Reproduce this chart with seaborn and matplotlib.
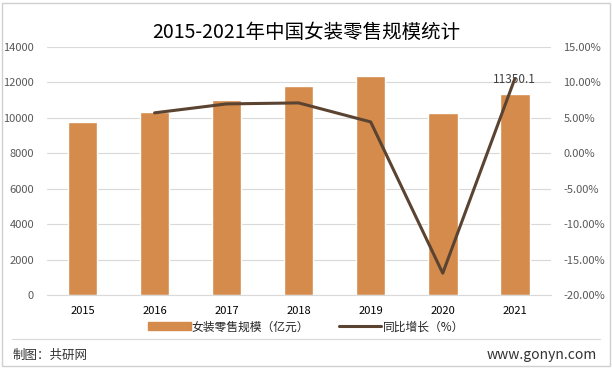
import matplotlib
matplotlib.use('Agg')
import matplotlib.pyplot as plt
import seaborn as sns
import pandas as pd
from matplotlib.lines import Line2D
from matplotlib.patches import Patch, Rectangle

# data
years = ['2015', '2016', '2017', '2018', '2019', '2020', '2021']
scale = [9780, 10330, 11010, 11800, 12360, 10270, 11350.1]
growth_years = ['2016', '2017', '2018', '2019', '2020', '2021']
growth = [5.7, 6.96, 7.1, 4.42, -16.9, 10.5]

bar_color = '#D58B4C'
line_color = '#5B4331'

sns.set_style('white')
plt.rcParams['font.family'] = ['Noto Sans CJK SC', 'DejaVu Sans']

fig = plt.figure(figsize=(6.12, 3.69), dpi=100)
ax = fig.add_axes([0.076, 0.2, 0.824, 0.673])

df = pd.DataFrame({'year': years, 'scale': scale})
sns.barplot(data=df, x='year', y='scale', color=bar_color, width=0.41,
            saturation=1, ax=ax)
ax.set_ylim(0, 14000)
ax.set_yticks(range(0, 14001, 2000))
ax.set_xlim(-0.5, 6.5)
ax.grid(axis='y', color='#D9D9D9', linewidth=0.8)
ax.set_axisbelow(True)
for s in ax.spines.values():
    s.set_visible(False)
ax.spines['bottom'].set_visible(True)
ax.spines['bottom'].set_color('#D9D9D9')
ax.set_xlabel('')
ax.set_ylabel('')
ax.tick_params(axis='y', labelsize=8, colors='#595959', length=0, pad=9)
ax.tick_params(axis='x', labelsize=8, colors='#000000', length=0, pad=8)

# label on the last bar
ax.annotate(f'{scale[-1]:.1f}', (6, scale[-1]), xytext=(0, 6),
            textcoords='offset points', ha='center', va='bottom',
            fontsize=8.5, color='#404040')

ax2 = ax.twinx()
gdf = pd.DataFrame({'x': [years.index(y) for y in growth_years], 'g': growth})
sns.lineplot(data=gdf, x='x', y='g', color=line_color, linewidth=2.2, ax=ax2)
ax2.set_ylim(-20, 15)
ax2.set_yticks(range(-20, 16, 5))
ax2.set_yticklabels([f'{v:.2f}%' for v in range(-20, 16, 5)])
ax2.set_xlim(-0.5, 6.5)
ax2.set_ylabel('')
ax2.set_xlabel('')
for s in ax2.spines.values():
    s.set_visible(False)
ax2.tick_params(axis='y', labelsize=8, colors='#595959', length=0, pad=9)

fig.text(0.5, 0.912, '2015-2021年中国女装零售规模统计', ha='center', va='center',
         fontsize=14, color='#000000')

handles = [Patch(color=bar_color), Line2D([0], [0], color=line_color, linewidth=2.2)]
fig.legend(handles, ['女装零售规模（亿元）', '同比增长（%）'], loc='center',
           bbox_to_anchor=(0.5, 0.114), ncol=2, frameon=False, fontsize=8.5,
           handlelength=3.6, handleheight=0.7, handletextpad=0.1, columnspacing=2.5)

# footer
fig.add_artist(Line2D([0.02, 0.98], [0.081, 0.081], color='#D9D9D9', linewidth=0.8))
fig.text(0.02, 0.038, '制图：共研网', fontsize=9, color='#333333', va='center')
fig.text(0.975, 0.038, 'www.gonyn.com', fontsize=10, color='#333333', va='center', ha='right')
fig.add_artist(Rectangle((0.003, 0.008), 0.994, 0.984, fill=False,
                         edgecolor='#D0D0D0', linewidth=1, transform=fig.transFigure))

fig.savefig('out.png', dpi=100)
